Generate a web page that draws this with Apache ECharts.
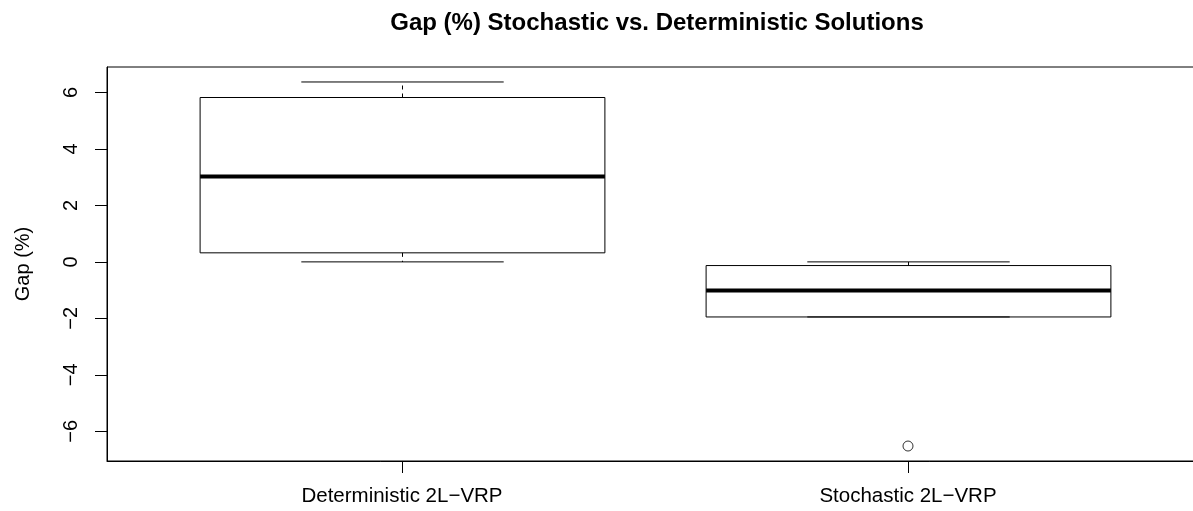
<!DOCTYPE html>
<html>
<head>
<meta charset="utf-8">
<script src="https://cdn.jsdelivr.net/npm/echarts@6/dist/echarts.min.js"></script>
<style>
  html, body { margin: 0; padding: 0; background: #fff; overflow: hidden; }
  /* the plot frame runs past the right edge in the original, so the canvas is wider than the window */
  #main { width: 1216px; height: 511px; }
</style>
</head>
<body>
<div id="main"></div>
<script>
// group names and positions on the x axis
var groups = ['Deterministic 2L\u2212VRP', 'Stochastic 2L\u2212VRP'];
var groupPos = [1, 2];
// five-number summaries: lower whisker, Q1, median, Q3, upper whisker
var lowWhisker = [0.0, -1.95];
var q1 = [0.32, -1.95];
var median = [3.02, -1.01];
var q3 = [5.82, -0.13];
var highWhisker = [6.37, 0.0];
// outliers: [group position, value]
var outliers = [[2, -6.52]];
var yTicks = [-6, -4, -2, 0, 2, 4, 6];

var boxData = groupPos.map(function (x, i) {
    return [x, lowWhisker[i], q1[i], median[i], q3[i], highWhisker[i]];
});

function renderBox(params, api) {
    var x = api.value(0);
    var lo = api.coord([x, api.value(1)]);
    var b1 = api.coord([x, api.value(2)]);
    var md = api.coord([x, api.value(3)]);
    var b3 = api.coord([x, api.value(4)]);
    var hi = api.coord([x, api.value(5)]);
    var halfBox = api.size([0.4, 0])[0];
    var halfCap = api.size([0.2, 0])[0];
    var cx = Math.round(lo[0]) + 0.5;
    var thin = { stroke: '#000', lineWidth: 1, fill: null };
    var dashed = { stroke: '#000', lineWidth: 1, lineDash: [4, 4] };
    var children = [];
    if (hi[1] < b3[1]) {
        children.push({ type: 'line', shape: { x1: cx, y1: b3[1], x2: cx, y2: hi[1] }, style: dashed });
    }
    if (lo[1] > b1[1]) {
        children.push({ type: 'line', shape: { x1: cx, y1: b1[1], x2: cx, y2: lo[1] }, style: dashed });
    }
    children.push(
        { type: 'line', shape: { x1: cx - halfCap, y1: hi[1], x2: cx + halfCap, y2: hi[1] }, style: thin },
        { type: 'line', shape: { x1: cx - halfCap, y1: lo[1], x2: cx + halfCap, y2: lo[1] }, style: thin },
        { type: 'rect', shape: { x: cx - halfBox, y: b3[1], width: halfBox * 2, height: b1[1] - b3[1] },
          style: { stroke: '#000', lineWidth: 1, fill: 'rgba(0,0,0,0)' } },
        { type: 'line', shape: { x1: cx - halfBox, y1: md[1], x2: cx + halfBox, y2: md[1] },
          style: { stroke: '#000', lineWidth: 4 } }
    );
    return { type: 'group', children: children };
}

var chart = echarts.init(document.getElementById('main'), null, { renderer: 'canvas' });

var option = {
    animation: false,
    backgroundColor: '#fff',
    textStyle: { fontFamily: 'Liberation Sans, Arial, sans-serif' },
    title: {
        text: 'Gap (%) Stochastic vs. Deterministic Solutions',
        left: 652,
        top: 6,
        textAlign: 'center',
        textStyle: { fontFamily: 'Liberation Sans, Arial, sans-serif', fontWeight: 'bold', fontSize: 24, color: '#000' }
    },
    grid: {
        left: 107,
        right: 13,
        top: 67,
        bottom: 50,
        show: true,
        borderColor: '#000',
        borderWidth: 1,
        containLabel: false
    },
    xAxis: {
        type: 'value',
        min: 0.417,
        max: 2.583,
        splitLine: { show: false },
        axisLine: { show: true, onZero: false, lineStyle: { color: '#000', width: 1 } },
        axisTick: { show: true, length: 12, lineStyle: { color: '#000' }, customValues: groupPos },
        axisLabel: {
            customValues: groupPos,
            color: '#000',
            fontSize: 20.5,
            margin: 25,
            formatter: function (v) { return groups[Math.round(v) - 1]; }
        }
    },
    yAxis: {
        type: 'value',
        min: -7.05,
        max: 6.9,
        name: 'Gap (%)',
        nameLocation: 'middle',
        nameRotate: 90,
        nameGap: 74,
        nameTextStyle: { color: '#000', fontSize: 20 },
        splitLine: { show: false },
        axisLine: { show: true, onZero: false, lineStyle: { color: '#000', width: 1 } },
        axisTick: { show: true, length: 12, lineStyle: { color: '#000' }, customValues: yTicks },
        axisLabel: {
            customValues: yTicks,
            rotate: 90,
            color: '#000',
            fontSize: 20,
            margin: 26,
            formatter: function (v) { return String(v).replace('-', '\u2212'); }
        }
    },
    series: [
        {
            type: 'custom',
            renderItem: renderBox,
            encode: { x: 0, y: [1, 2, 3, 4, 5] },
            data: boxData,
            z: 2
        },
        {
            type: 'scatter',
            symbol: 'circle',
            symbolSize: 10,
            itemStyle: { color: 'rgba(0,0,0,0)', borderColor: '#000', borderWidth: 1 },
            data: outliers,
            z: 3
        }
    ]
};

chart.setOption(option);
</script>
</body>
</html>
